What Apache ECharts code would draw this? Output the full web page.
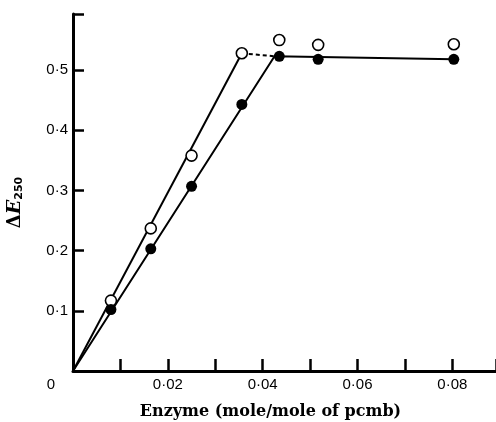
<!DOCTYPE html>
<html>
<head>
<meta charset="utf-8">
<script src="https://cdn.jsdelivr.net/npm/echarts@6/dist/echarts.min.js"></script>
<style>
  html, body { margin: 0; padding: 0; background: #fff; }
  #chart { width: 496px; height: 422px; }
</style>
</head>
<body>
<div id="chart"></div>
<script>
// enzyme added (mole/mole of pcmb)
var enzyme = [0.008, 0.0164, 0.025, 0.0356, 0.0435, 0.0517, 0.0803];
// open circles
var openVals = [0.117, 0.237, 0.358, 0.528, 0.550, 0.542, 0.543];
// filled circles
var filledVals = [0.102, 0.203, 0.307, 0.443, 0.523, 0.518, 0.518];
// drawn lines
var openFit = [[0, 0], [0.0356, 0.528]];
var joinFit = [[0.0356, 0.528], [0.0425, 0.523]];
var filledFit = [[0, 0], [0.0425, 0.523], [0.0803, 0.518]];

var xLabels = ['0', '0·02', '0·04', '0·06', '0·08'];
var yLabels = ['0·1', '0·2', '0·3', '0·4', '0·5'];

function pairs(xs, ys) {
    return xs.map(function (x, i) { return [x, ys[i]]; });
}

var myChart = echarts.init(document.getElementById('chart'));
var option = {
    animation: false,
    grid: {left: 73, right: 0, top: 14, bottom: 51, outerBoundsMode: 'none', containLabel: false},
    xAxis: {
        type: 'value',
        min: 0,
        max: 0.0892,
        interval: 0.01,
        splitLine: {show: false},
        axisLine: {lineStyle: {color: '#000', width: 3}},
        axisTick: {inside: true, length: 12, lineStyle: {color: '#000', width: 2.5}},
        axisLabel: {
            color: '#000',
            fontFamily: 'Liberation Sans',
            fontSize: 15,
            margin: 6,
            formatter: function (v) {
                var k = Math.round(v * 100);
                if (Math.abs(v * 100 - k) > 1e-6 || k % 2) return '';
                return k === 0 ? '{z|' + xLabels[0] + '}' : xLabels[k / 2];
            },
            rich: {z: {fontFamily: 'Liberation Sans', fontSize: 15, color: '#000', padding: [0, 44, 0, 0]}}
        },
        name: 'Enzyme (mole/mole of pcmb)',
        nameLocation: 'middle',
        nameGap: 33,
        nameTextStyle: {
            color: '#000', fontFamily: 'DejaVu Serif', fontWeight: 'bold', fontSize: 16,
            padding: [0, 28, 0, 0]
        }
    },
    yAxis: {
        type: 'value',
        min: 0,
        max: 0.5933,
        interval: 0.1,
        splitLine: {show: false},
        axisLine: {lineStyle: {color: '#000', width: 3}},
        axisTick: {inside: true, length: 11, lineStyle: {color: '#000', width: 2.5}},
        axisLabel: {
            color: '#000',
            fontFamily: 'Liberation Sans',
            fontSize: 15,
            margin: 5,
            formatter: function (v) {
                var k = Math.round(v * 10);
                if (Math.abs(v * 10 - k) > 1e-6 || k === 0) return '';
                return yLabels[k - 1];
            }
        },
        name: '{d|Δ}{e|E}{s|250}',
        nameLocation: 'middle',
        nameGap: 48,
        nameRotate: 90,
        nameTextStyle: {
            padding: [0, 20, 0, 0],
            rich: {
                d: {fontFamily: 'DejaVu Serif', fontWeight: 'bold', fontSize: 18, color: '#000'},
                e: {fontFamily: 'DejaVu Serif', fontWeight: 'bold', fontStyle: 'italic', fontSize: 19, color: '#000'},
                s: {fontFamily: 'DejaVu Sans', fontWeight: 'bold', fontSize: 11, color: '#000', padding: [9, 0, 0, 0]}
            }
        }
    },
    series: [
        {
            type: 'line', data: openFit, symbol: 'none', z: 1,
            lineStyle: {color: '#000', width: 2}
        },
        {
            type: 'line', data: joinFit, symbol: 'none', z: 1,
            lineStyle: {color: '#000', width: 2, type: [4, 3]}
        },
        {
            type: 'line', data: filledFit, symbol: 'none', z: 1,
            lineStyle: {color: '#000', width: 2}
        },
        {
            type: 'scatter', data: pairs(enzyme, openVals), symbolSize: 11, z: 3,
            itemStyle: {color: '#fff', borderColor: '#000', borderWidth: 1.6, opacity: 1}
        },
        {
            type: 'scatter', data: pairs(enzyme, filledVals), symbolSize: 11, z: 3,
            itemStyle: {color: '#000', opacity: 1}
        }
    ]
};
myChart.setOption(option);
</script>
</body>
</html>
